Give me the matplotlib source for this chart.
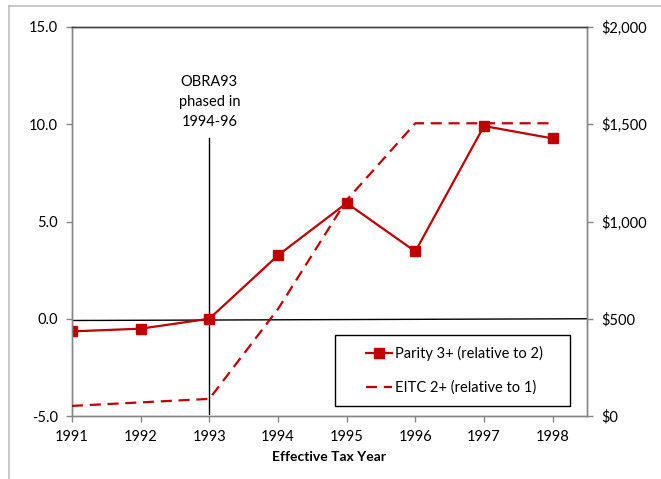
import matplotlib
matplotlib.use('Agg')
import matplotlib.pyplot as plt
from matplotlib.patches import Rectangle
from matplotlib.lines import Line2D
from matplotlib.ticker import FuncFormatter

# data
years = [1991, 1992, 1993, 1994, 1995, 1996, 1997, 1998]
parity = [-0.65, -0.51, 0.0, 3.26, 5.95, 3.46, 9.91, 9.27]
eitc = [52, 70, 88, 550, 1110, 1505, 1505, 1505]
left_ticks = [-5.0, 0.0, 5.0, 10.0, 15.0]
right_ticks = [0, 500, 1000, 1500, 2000]

red = '#C00000'
grey = '#868686'

plt.rcParams['font.family'] = ['Lato', 'DejaVu Sans']

fig = plt.figure(figsize=(6.61, 4.79), dpi=100)
W, H = 661, 479
ax = fig.add_axes([72 / W, 1 - 416 / H, (587 - 72) / W, (416 - 27) / H])

# outer chart border (partly cut off in the source)
fig.add_artist(Line2D([9 / W, 9 / W], [0, 1 - 6 / H], color='#bfbfbf', lw=1.2))
fig.add_artist(Line2D([9 / W, 1], [1 - 6 / H, 1 - 6 / H], color='#bfbfbf', lw=1.2))

ax.plot(years, parity, color=red, lw=1.6, marker='s', markersize=7.5, zorder=4)
ax.set_xlim(1991, 1998.5)
ax.set_ylim(-5, 15)
ax.set_yticks(left_ticks)
ax.set_yticklabels([f'{v:.1f}' for v in left_ticks])
ax.set_xticks(years)
ax.set_xticklabels([str(y) for y in years])

# zero line and OBRA93 marker line
ax.plot([1991, 1998.5], [-0.09, 0.0], color='black', lw=1.0, zorder=2)
ax.plot([1993, 1993], [-4.9, 9.3], color='black', lw=1.0, zorder=2)
ax.text(1993, 9.75, 'OBRA93\nphased in\n1994-96', ha='center', va='bottom',
        fontsize=10.5, linespacing=1.55)

ax2 = ax.twinx()
ax2.set_position(ax.get_position())
ax2.plot(years, eitc, color=red, lw=1.6, dashes=(5, 3), zorder=3)
ax2.set_ylim(0, 2000)
ax2.set_yticks(right_ticks)
ax2.yaxis.set_major_formatter(FuncFormatter(lambda v, p: f'${v:,.0f}'))

for a in (ax, ax2):
    for s in a.spines.values():
        s.set_color(grey)
        s.set_linewidth(1.0)
    a.spines['top'].set_color('#404040')
    a.tick_params(axis='both', colors=grey, labelcolor='black', labelsize=10.5,
                  length=4, width=1.0, direction='out')
ax.tick_params(axis='y', pad=6)
ax2.tick_params(axis='y', pad=6)
ax.tick_params(axis='x', pad=6)

ax.set_xlabel('Effective Tax Year', fontsize=10, fontweight='bold', labelpad=5)

# legend box
ax.add_patch(Rectangle((0.511, 0.026), 0.456, 0.182, transform=ax.transAxes,
                       fill=True, facecolor='white', edgecolor='black', lw=1.0, zorder=5))
h1 = Line2D([], [], color=red, lw=1.6, marker='s', markersize=7.5)
h2 = Line2D([], [], color=red, lw=1.6, dashes=(5, 3))
leg = ax2.legend([h1, h2], ['Parity 3+ (relative to 2)', 'EITC 2+ (relative to 1)'],
                 loc='center left', bbox_to_anchor=(0.57, 0.117), frameon=False,
                 fontsize=10.5, handlelength=1.8, handletextpad=0.2, labelspacing=1.3,
                 borderpad=0, borderaxespad=0)
leg.set_zorder(6)

fig.savefig('out.png', dpi=100)
